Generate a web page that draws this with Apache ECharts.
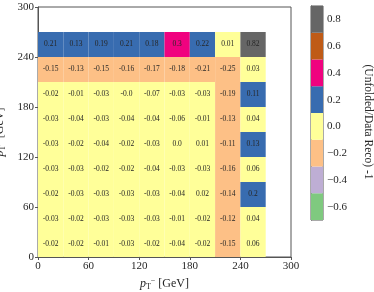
<!DOCTYPE html>
<html><head><meta charset="utf-8">
<script src="https://cdn.jsdelivr.net/npm/echarts@6/dist/echarts.min.js"></script>
<style>html,body{margin:0;padding:0;background:#fff}#c{width:374px;height:292px}</style>
</head><body><div id="c"></div>
<script>
// bin lower edges (GeV), bin width 30
const xBins = [0, 30, 60, 90, 120, 150, 180, 210, 240];
const yBins = [0, 30, 60, 90, 120, 150, 180, 210, 240];
// rows of values, from lowest p_T^+ bin upward
const row0 = [-0.02, -0.02, -0.01, -0.03, -0.02, -0.04, -0.02, -0.15, 0.06];
const row1 = [-0.03, -0.02, -0.03, -0.03, -0.03, -0.01, -0.02, -0.12, 0.04];
const row2 = [-0.02, -0.03, -0.03, -0.03, -0.03, -0.04, 0.02, -0.14, 0.2];
const row3 = [-0.03, -0.03, -0.02, -0.02, -0.04, -0.03, -0.03, -0.16, 0.06];
const row4 = [-0.03, -0.02, -0.04, -0.02, -0.03, 0.0, 0.01, -0.11, 0.13];
const row5 = [-0.03, -0.04, -0.03, -0.04, -0.04, -0.06, -0.01, -0.13, 0.04];
const row6 = [-0.02, -0.01, -0.03, -0.0, -0.07, -0.03, -0.03, -0.19, 0.11];
const row7 = [-0.15, -0.13, -0.15, -0.16, -0.17, -0.18, -0.21, -0.25, 0.03];
const row8 = [0.21, 0.13, 0.19, 0.21, 0.18, 0.3, 0.22, 0.01, 0.82];
const rows = [row0, row1, row2, row3, row4, row5, row6, row7, row8];
const axisTicks = [0, 60, 120, 180, 240, 300];
// colour bar
const cbEdges = [-0.7, -0.5, -0.3, -0.1, 0.1, 0.3, 0.5, 0.7, 0.9];
const cbColors = ['#7fc97f', '#beaed4', '#fdc086', '#ffff99', '#386cb0', '#f0027f', '#bf5b17', '#666666'];
const cbTicks = [-0.6, -0.4, -0.2, 0.0, 0.2, 0.4, 0.6, 0.8];

const BIN = 30;
const FONT = 'Liberation Serif';
const TXT = '#262626';

const cellData = [];
rows.forEach((r, j) => r.forEach((v, i) => cellData.push([xBins[i], yBins[j], v])));
const cbData = [];
for (let k = 0; k < cbColors.length; k++) cbData.push([cbEdges[k], cbEdges[k + 1], (cbEdges[k] + cbEdges[k + 1]) / 2]);

const pieces = cbColors.map((c, k) => ({ gte: cbEdges[k], lt: cbEdges[k + 1], color: c }));

function fmt(v) {
  if (v === 0) return Object.is(v, -0) ? '-0.0' : '0.0';
  let s = String(v);
  if (s.indexOf('.') < 0) s += '.0';
  return s;
}

const nameRich = {
  p: { fontStyle: 'italic', fontSize: 12, fontFamily: FONT, color: TXT },
  s: { fontSize: 8, fontFamily: FONT, color: TXT, padding: [6, 0, 0, 0] },
  u: { fontSize: 8, fontFamily: FONT, color: TXT, padding: [0, 0, 6, 0] }
};

const chart = echarts.init(document.getElementById('c'), null, { renderer: 'canvas' });
chart.setOption({
  animation: false,
  backgroundColor: '#fff',
  textStyle: { fontFamily: FONT },
  visualMap: {
    type: 'piecewise', show: false, dimension: 2, seriesIndex: [0, 1], pieces: pieces
  },
  grid: [
    { left: 38, top: 7, width: 253, height: 250, containLabel: false, outerBoundsMode: 'none', show: true, borderColor: '#555', borderWidth: 1, backgroundColor: 'transparent' },
    { left: 311, top: 6, width: 12, height: 214, containLabel: false, outerBoundsMode: 'none', show: true, borderColor: '#555', borderWidth: 1, backgroundColor: 'transparent' }
  ],
  xAxis: [
    {
      gridIndex: 0, type: 'value', min: 0, max: 300, interval: 60,
      axisLine: { show: true, lineStyle: { color: '#555' } },
      axisTick: { show: true, length: 3, lineStyle: { color: '#555' } },
      splitLine: { show: false },
      axisLabel: { color: TXT, fontSize: 11, fontFamily: FONT, margin: 4 },
      name: '{p|p}{s|T}{u|−} [GeV]', nameLocation: 'middle', nameGap: 19,
      nameTextStyle: { color: TXT, fontSize: 12, fontFamily: FONT, rich: nameRich }
    },
    { gridIndex: 1, type: 'value', min: 0, max: 1, show: false }
  ],
  yAxis: [
    {
      gridIndex: 0, type: 'value', min: 0, max: 300, interval: 60,
      axisLine: { show: true, lineStyle: { color: '#555' } },
      axisTick: { show: true, length: 3, lineStyle: { color: '#555' } },
      splitLine: { show: false },
      axisLabel: { color: TXT, fontSize: 11, fontFamily: FONT, margin: 4 },
      name: '{p|p}{s|T}{u|+} [GeV]', nameLocation: 'middle', nameGap: 27, nameRotate: 90,
      nameTextStyle: { color: TXT, fontSize: 12, fontFamily: FONT, rich: nameRich }
    },
    {
      gridIndex: 1, type: 'value', min: -0.7, max: 0.9, position: 'right',
      axisLine: { show: true, lineStyle: { color: '#555' } },
      axisTick: { show: true, length: 3, customValues: cbTicks, lineStyle: { color: '#555' } },
      splitLine: { show: false },
      axisLabel: {
        color: TXT, fontSize: 11, fontFamily: FONT, margin: 4, customValues: cbTicks,
        formatter: v => (Math.round(v * 10) / 10).toFixed(1).replace('-', '−')
      },
      name: '(Unfolded/Data Reco) -1', nameLocation: 'middle', nameGap: 39, nameRotate: -90,
      nameTextStyle: { color: TXT, fontSize: 11.5, fontFamily: FONT, padding: [0, 0, 0, 18] }
    }
  ],
  series: [
    {
      type: 'custom', xAxisIndex: 0, yAxisIndex: 0, data: cellData,
      renderItem: function (params, api) {
        const x0 = api.value(0), y0 = api.value(1);
        const p1 = api.coord([x0, y0 + BIN]);
        const p2 = api.coord([x0 + BIN, y0]);
        return {
          type: 'group',
          children: [
            { type: 'rect', shape: { x: p1[0], y: p1[1], width: p2[0] - p1[0], height: p2[1] - p1[1] },
              style: { fill: api.visual('color') } },
            { type: 'text', x: (p1[0] + p2[0]) / 2, y: (p1[1] + p2[1]) / 2,
              style: { text: fmt(rows[params.dataIndex / 9 | 0][params.dataIndex % 9]), fill: TXT, fontSize: 7.5, fontFamily: FONT, align: 'center', verticalAlign: 'middle' } }
          ]
        };
      }
    },
    {
      type: 'custom', xAxisIndex: 1, yAxisIndex: 1, data: cbData,
      renderItem: function (params, api) {
        const p1 = api.coord([0, api.value(1)]);
        const p2 = api.coord([1, api.value(0)]);
        return { type: 'rect', shape: { x: p1[0], y: p1[1], width: p2[0] - p1[0], height: p2[1] - p1[1] },
          style: { fill: api.visual('color') } };
      }
    }
  ]
});
</script></body></html>
